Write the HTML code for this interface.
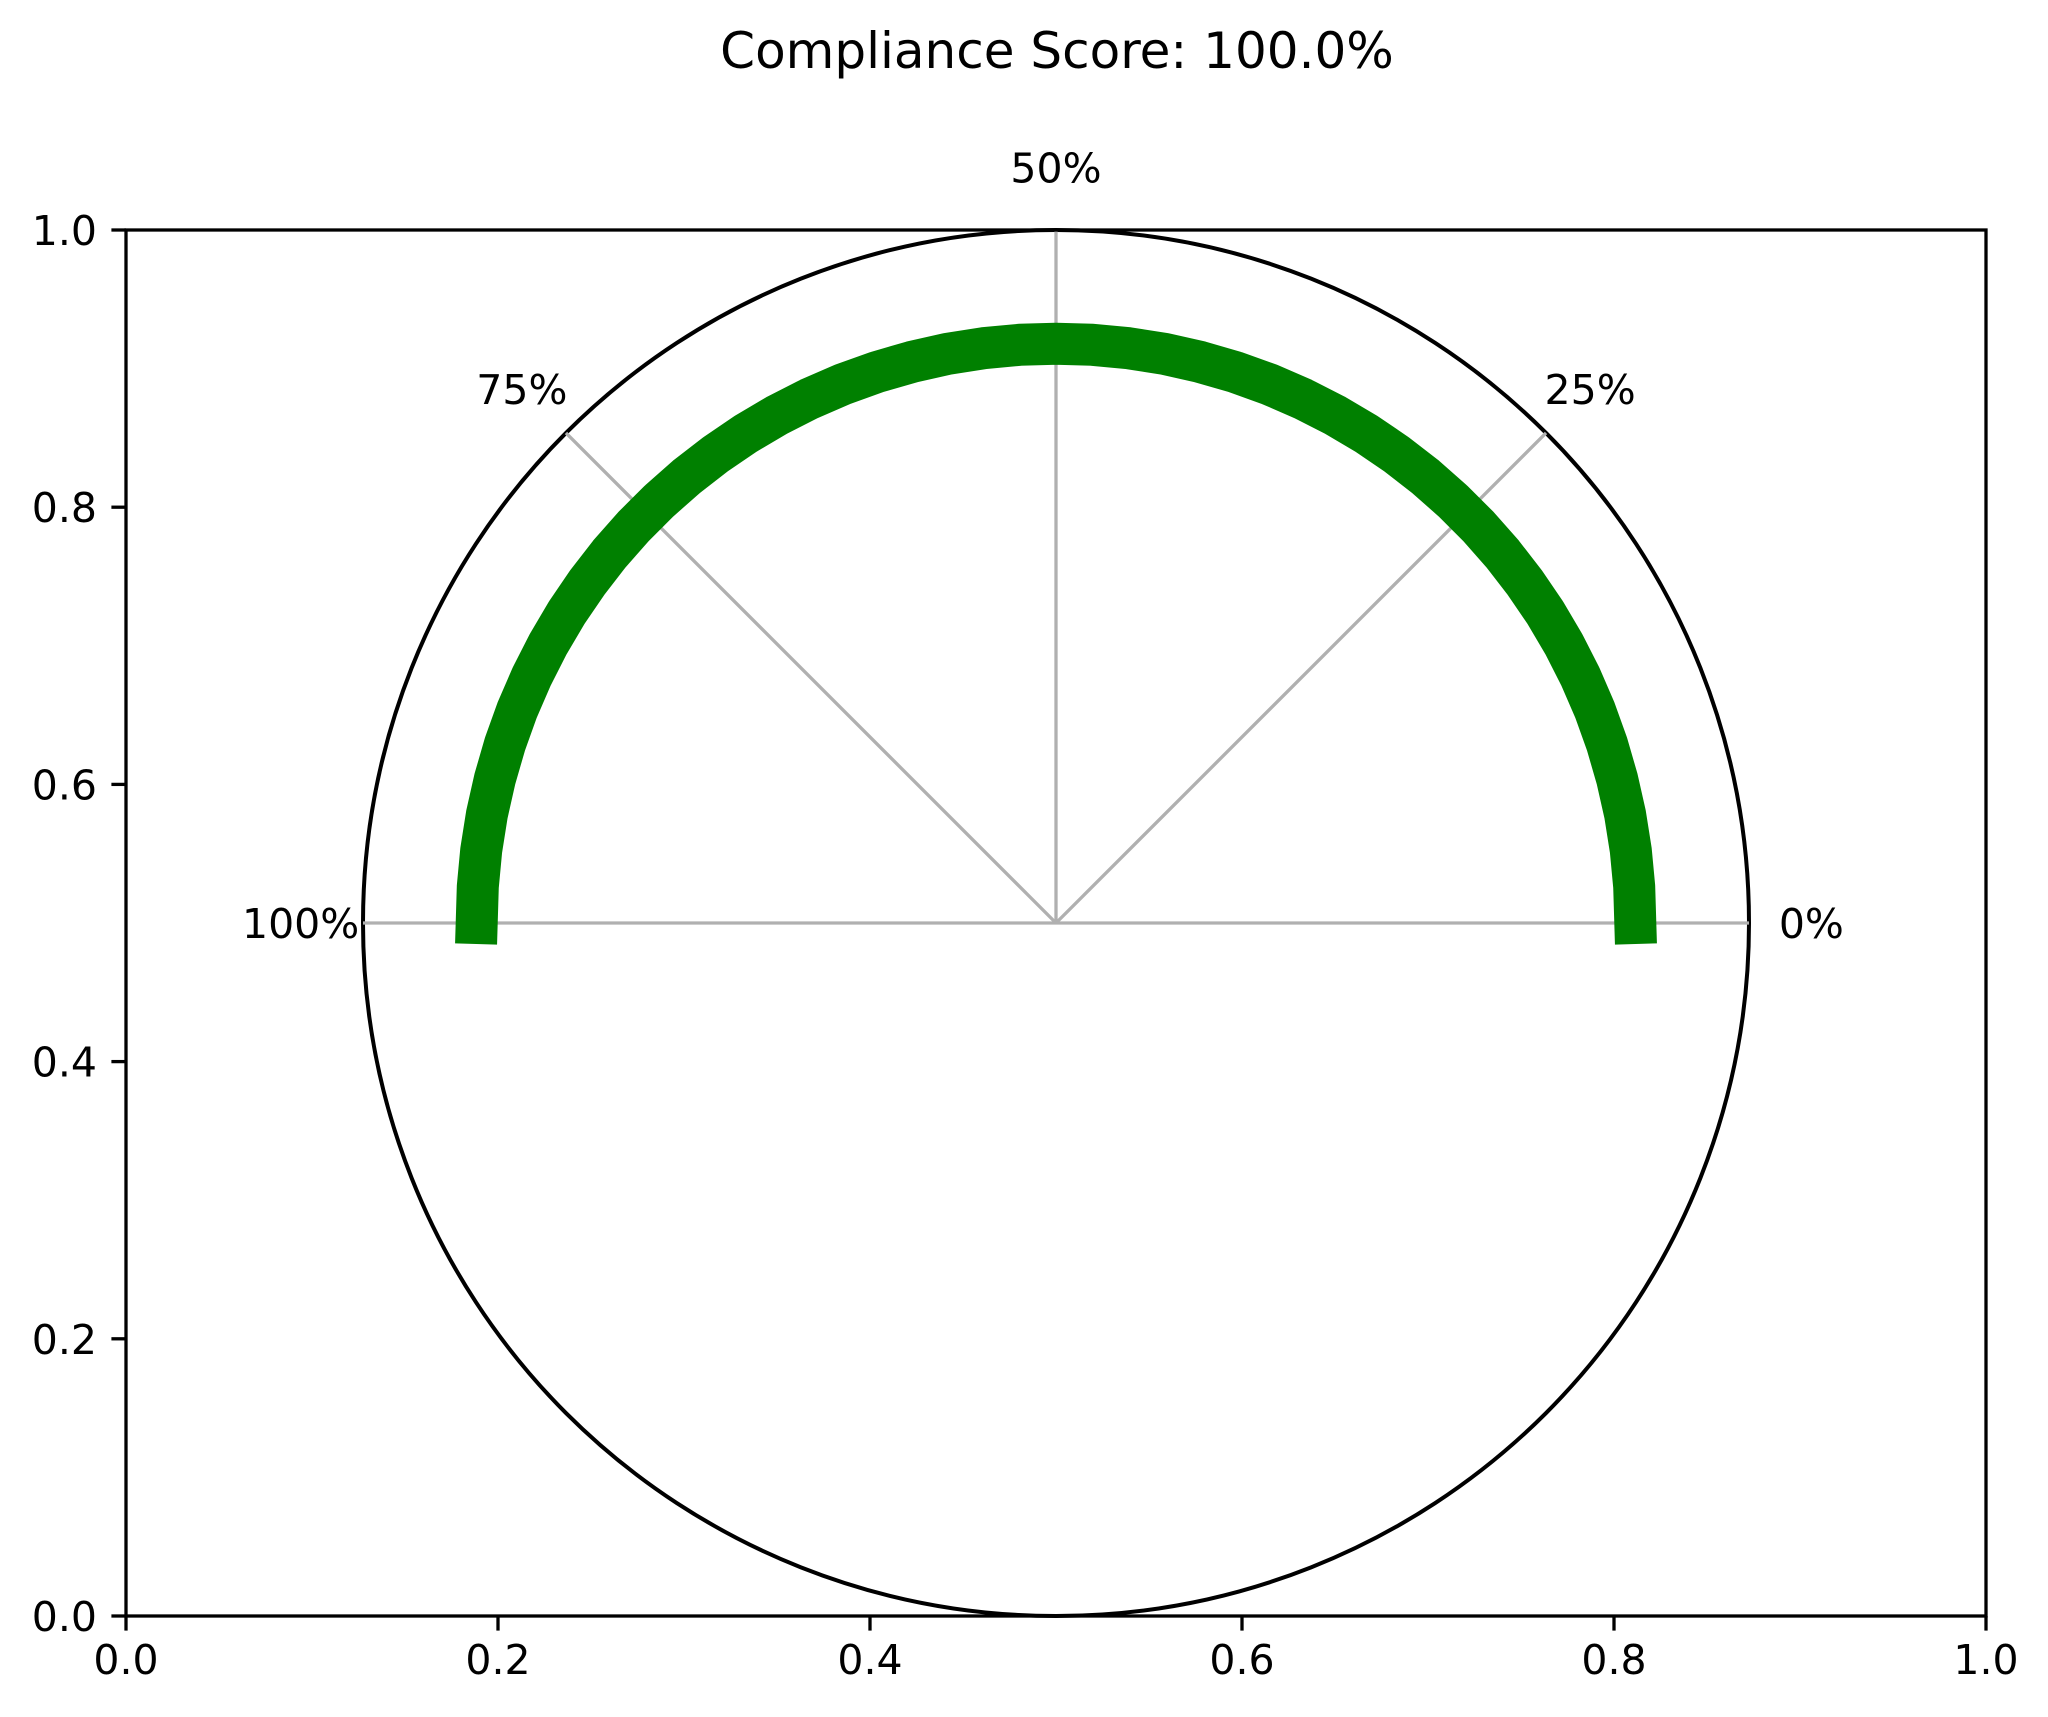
<!DOCTYPE html>
<html><head><meta charset="utf-8"><style>
html,body{margin:0;padding:0;background:#fff}
svg{display:block;font-family:"DejaVu Sans","Liberation Sans",sans-serif}
</style></head><body>
<svg id="chart" width="2048" height="1717" viewBox="0 0 2048 1717">
<text x="1057" y="68" font-size="50" text-anchor="middle">Compliance Score: 100.0%</text>
<g id="plot"></g>
</svg>
<script>
const score = [100.0];
const gaugeTicks = [0, 25, 50, 75, 100];
const gaugeTickLabels = ["0%", "25%", "50%", "75%", "100%"];
const axisTicks = [0, 0.2, 0.4, 0.6, 0.8, 1.0];
const axisTickLabels = ["0.0", "0.2", "0.4", "0.6", "0.8", "1.0"];

const NS = "http://www.w3.org/2000/svg";
const L = 126, R = 1986, T = 230, B = 1616;
const sx = v => L + v * (R - L);
const sy = v => B - v * (B - T);
const cx = sx(0.5), cy = sy(0.5);
const rUnit = (B - T); // radius measured in y units
const plot = document.getElementById('plot');
function mk(tag, attrs) {
  const e = document.createElementNS(NS, tag);
  for (const k in attrs) e.setAttribute(k, attrs[k]);
  plot.appendChild(e);
  return e;
}
const ang = p => Math.PI * (p / 100); // 0% at right, 100% at left

// gauge circle
const circ = mk('circle', {cx: cx, cy: cy, r: 0.5 * rUnit, fill: 'none', stroke: '#000', 'stroke-width': 4});



// grid spokes and labels
gaugeTicks.forEach((t, i) => {
  const a = ang(t);
  const ln = mk('line', {x1: cx, y1: cy, x2: cx + Math.cos(a) * 0.5 * rUnit, y2: cy - Math.sin(a) * 0.5 * rUnit, stroke: '#b0b0b0', 'stroke-width': 3.3});
  
  
  const lr = 0.545 * rUnit;
  const tx = mk('text', {x: cx + Math.cos(a) * lr, y: cy - Math.sin(a) * lr + 15, 'font-size': 41, 'text-anchor': 'middle'});
  tx.textContent = gaugeTickLabels[i];
  
  
});

// score arc
const arcR = 0.418 * rUnit;
const n = 50;
let pts = [];
for (let k = 0; k <= n; k++) {
  const a = ang(score[0] * k / n);
  pts.push((cx + Math.cos(a) * arcR).toFixed(1) + ',' + (cy - Math.sin(a) * arcR).toFixed(1));
}
const arc = mk('polyline', {points: pts.join(' '), fill: 'none', stroke: '#008000', 'stroke-width': 42, 'stroke-linecap': 'square', 'stroke-linejoin': 'round'});



// axes frame
const frame = mk('rect', {x: L, y: T, width: R - L, height: B - T, fill: 'none', stroke: '#000', 'stroke-width': 3.3});



axisTicks.forEach((v, i) => {
  const xt = mk('line', {x1: sx(v), y1: B, x2: sx(v), y2: B + 14.6, stroke: '#000', 'stroke-width': 3.3});
  
  
  const xl = mk('text', {x: sx(v), y: B + 58, 'font-size': 41, 'text-anchor': 'middle'});
  xl.textContent = axisTickLabels[i];
  
  
  const yt = mk('line', {x1: L - 14.6, y1: sy(v), x2: L, y2: sy(v), stroke: '#000', 'stroke-width': 3.3});
  
  
  const yl = mk('text', {x: L - 29, y: sy(v) + 15, 'font-size': 41, 'text-anchor': 'end'});
  yl.textContent = axisTickLabels[i];
  
  
});
</script>
</body></html>
